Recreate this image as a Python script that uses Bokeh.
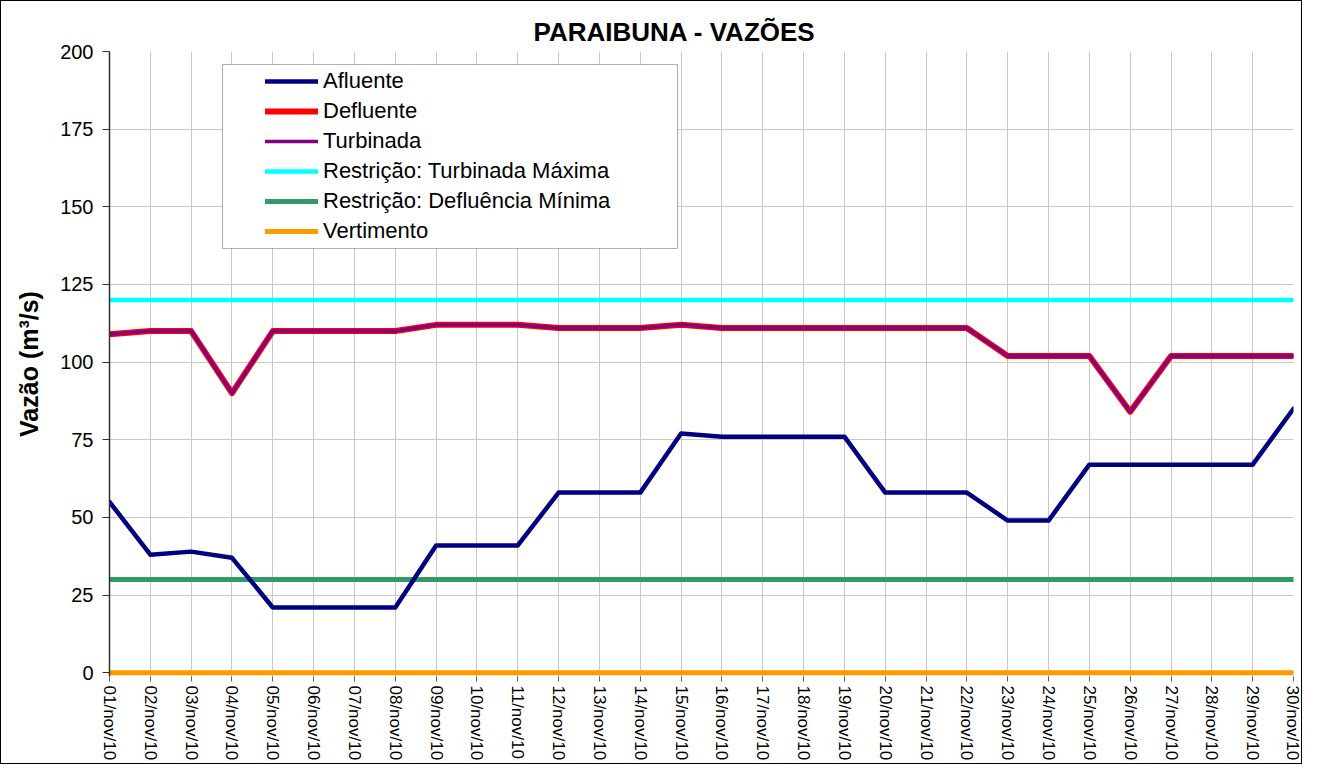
from bokeh.plotting import figure
from bokeh.models import Range1d, FixedTicker, Legend, LegendItem, BoxAnnotation
from bokeh.embed import file_html
from bokeh.resources import INLINE
import math

dates = ["01/nov/10", "02/nov/10", "03/nov/10", "04/nov/10", "05/nov/10", "06/nov/10",
         "07/nov/10", "08/nov/10", "09/nov/10", "10/nov/10", "11/nov/10", "12/nov/10",
         "13/nov/10", "14/nov/10", "15/nov/10", "16/nov/10", "17/nov/10", "18/nov/10",
         "19/nov/10", "20/nov/10", "21/nov/10", "22/nov/10", "23/nov/10", "24/nov/10",
         "25/nov/10", "26/nov/10", "27/nov/10", "28/nov/10", "29/nov/10", "30/nov/10"]

afluente = [55, 38, 39, 37, 21, 21, 21, 21, 41, 41, 41, 58, 58, 58, 77,
            76, 76, 76, 76, 58, 58, 58, 49, 49, 67, 67, 67, 67, 67, 85]
defluente = [109, 110, 110, 90, 110, 110, 110, 110, 112, 112, 112, 111, 111, 111, 112,
             111, 111, 111, 111, 111, 111, 111, 102, 102, 102, 84, 102, 102, 102, 102]
turbinada = [109, 110, 110, 90, 110, 110, 110, 110, 112, 112, 112, 111, 111, 111, 112,
             111, 111, 111, 111, 111, 111, 111, 102, 102, 102, 84, 102, 102, 102, 102]
turbinada_maxima = 120
defluencia_minima = 30
vertimento_valor = 0

y_ticks = [0, 25, 50, 75, 100, 125, 150, 175, 200]

x = list(range(len(dates)))
restr_max = [turbinada_maxima for _ in dates]
restr_min = [defluencia_minima for _ in dates]
vertimento = [vertimento_valor for _ in dates]

FONT = "Liberation Sans"

p = figure(width=1302, height=764, output_backend="svg", toolbar_location=None,
           x_range=Range1d(0, len(dates) - 1), y_range=Range1d(-1.2, 200),
           min_border_left=108, min_border_right=10, min_border_top=50, min_border_bottom=89)
p.styles = {"border": "1px solid black"}

p.title.text = "PARAIBUNA - VAZÕES"
p.title.text_font = FONT
p.title.text_font_size = "26px"
p.title.text_font_style = "bold"
p.title.align = "left"
p.title.offset = 424
p.title.text_color = "black"

p.outline_line_color = None
p.background_fill_color = "white"
p.border_fill_color = "white"

# grid
p.xgrid.ticker = FixedTicker(ticks=x)
p.ygrid.ticker = FixedTicker(ticks=y_ticks)
for g in (p.xgrid, p.ygrid):
    g.grid_line_color = "#c8c8c8"
    g.grid_line_width = 1

# x axis
xa = p.xaxis[0]
xa.ticker = FixedTicker(ticks=x)
xa.major_label_overrides = {i: d for i, d in enumerate(dates)}
xa.major_label_orientation = -math.pi / 2
xa.major_label_text_font = FONT
xa.major_label_text_font_size = "17px"
xa.major_label_text_color = "black"
xa.major_label_standoff = 4
xa.axis_line_color = None
xa.major_tick_line_color = "#606060"
xa.major_tick_in = 0
xa.major_tick_out = 5
xa.minor_tick_line_color = None

# y axis
ya = p.yaxis[0]
ya.ticker = FixedTicker(ticks=y_ticks)
ya.axis_label = "Vazão (m³/s)"
ya.axis_label_text_font = FONT
ya.axis_label_text_font_size = "25px"
ya.axis_label_text_font_style = "bold"
ya.axis_label_text_color = "black"
ya.axis_label_standoff = 14
ya.major_label_text_font = FONT
ya.major_label_text_font_size = "20px"
ya.major_label_text_color = "black"
ya.major_label_standoff = 9
ya.axis_line_color = "#303030"
ya.axis_line_width = 1.5
ya.major_tick_line_color = "#303030"
ya.major_tick_in = 0
ya.major_tick_out = 7
ya.minor_tick_line_color = None

r_max = p.line(x, restr_max, line_color="#00FFFF", line_width=4.5, line_cap="round")
r_min = p.line(x, restr_min, line_color="#339966", line_width=5, line_cap="round")
r_def = p.line(x, defluente, line_color="#FF0000", line_width=6, line_cap="round", line_join="round")
r_tur = p.line(x, turbinada, line_color="#800080", line_width=3.5, line_cap="round", line_join="round")
r_afl = p.line(x, afluente, line_color="#000080", line_width=4.5, line_cap="round", line_join="round")
r_ver = p.line(x, vertimento, line_color="#FF9900", line_width=5, line_cap="round")

# legend frame box (screen px relative to plot frame)
box = BoxAnnotation(left=113, right=568, top=612, bottom=428,
                    left_units="screen", right_units="screen",
                    top_units="screen", bottom_units="screen",
                    fill_color="white", fill_alpha=1.0,
                    line_color="black", line_width=1.2)
p.add_layout(box)

legend = Legend(items=[
    LegendItem(label="Afluente", renderers=[r_afl]),
    LegendItem(label="Defluente", renderers=[r_def]),
    LegendItem(label="Turbinada", renderers=[r_tur]),
    LegendItem(label="Restrição: Turbinada Máxima", renderers=[r_max]),
    LegendItem(label="Restrição: Defluência Mínima", renderers=[r_min]),
    LegendItem(label="Vertimento", renderers=[r_ver]),
], location=(156, 430))
legend.padding = 0
legend.margin = 0
legend.spacing = 0
legend.glyph_width = 53
legend.glyph_height = 30
legend.label_height = 30
legend.label_standoff = 5
legend.label_text_font = FONT
legend.label_text_font_size = "22px"
legend.label_text_color = "black"
legend.border_line_color = None
legend.background_fill_alpha = 0
legend.click_policy = "none"
p.add_layout(legend, "center")

open("out.html", "w").write(file_html(p, INLINE))
